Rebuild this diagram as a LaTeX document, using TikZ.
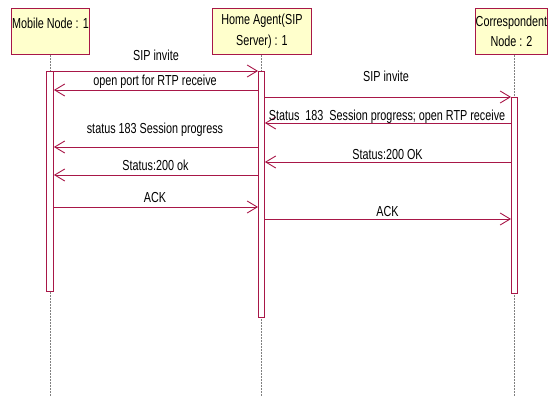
\documentclass[tikz,border=0pt]{standalone}
\usepackage{fontspec}
\setmainfont{Liberation Sans}[FakeStretch=0.745]
\usetikzlibrary{arrows.meta}
\definecolor{umlred}{RGB}{168,23,72}
\definecolor{umlyellow}{RGB}{255,255,204}
\begin{document}
\begin{tikzpicture}[x=1pt,y=-1pt,
  every node/.style={font=\fontsize{14.5}{20.5}\selectfont},
  objbox/.style={draw=umlred, fill=umlyellow, line width=0.9pt, inner sep=0pt,
    align=center, anchor=north west, minimum height=46pt},
  actbox/.style={draw=umlred, fill=white, line width=0.9pt, inner sep=0pt,
    anchor=north west},
  lifeline/.style={draw=gray, line width=0.6pt, dash pattern=on 2pt off 1pt},
  msg/.style={draw=umlred, line width=0.9pt,
    -{Straight Barb[length=10pt,width=12pt,line width=0.9pt]}},
  msglabel/.style={inner sep=0pt, anchor=base}]

\useasboundingbox (0,0) rectangle (548,396);
\coordinate (bottom) at (0,396);

% participants
\node[objbox, minimum width=78pt, text height=20pt, text depth=26pt]
  (mn) at (11,8) {Mobile Node : 1};
\node[objbox, minimum width=99pt] (ha) at (212,8) {Home Agent(SIP\\Server) : 1};
\node[objbox, minimum width=72pt] (cn) at (475,8) {Correspondent\\Node : 2};

% lifelines
\path (46,71) coordinate (mnact) (258,71) coordinate (haact) (511,97) coordinate (cnact);
\draw[lifeline] (50,0 |- mn.south) -- (50,0 |- bottom);
\draw[lifeline] (261,0 |- ha.south) -- (261,0 |- bottom);
\draw[lifeline] (514,0 |- cn.south) -- (514,0 |- bottom);

% activation bars
\node[actbox, minimum width=7pt, minimum height=220pt] (ma) at (mnact) {};
\node[actbox, minimum width=6pt, minimum height=246pt] (hb) at (haact) {};
\node[actbox, minimum width=6pt, minimum height=196pt] (cb) at (cnact) {};

% messages
\draw[msg] (ma.east |- 0,71) -- (hb.west |- 0,71);
\node[msglabel] at (156,60) {SIP invite};

\draw[msg] (hb.west |- 0,90) -- (ma.east |- 0,90);
\node[msglabel] at (155,85) {open port for RTP receive};

\draw[msg] (hb.east |- 0,97) -- (cb.west |- 0,97);
\node[msglabel] at (386,81) {SIP invite};

\draw[msg] (cb.west |- 0,123) -- (hb.east |- 0,123);
\node[msglabel] at (387,120) {Status\ \ 183\ \ Session progress; open RTP receive};

\draw[msg] (hb.west |- 0,147) -- (ma.east |- 0,147);
\node[msglabel] at (155,133) {status 183 Session progress};

\draw[msg] (cb.west |- 0,162) -- (hb.east |- 0,162);
\node[msglabel] at (387.5,159) {Status:200 OK};

\draw[msg] (hb.west |- 0,175) -- (ma.east |- 0,175);
\node[msglabel] at (155.5,170) {Status:200 ok};

\draw[msg] (ma.east |- 0,207) -- (hb.west |- 0,207);
\node[msglabel] at (155,202) {ACK};

\draw[msg] (hb.east |- 0,219) -- (cb.west |- 0,219);
\node[msglabel] at (387.5,216) {ACK};
\end{tikzpicture}
\end{document}
